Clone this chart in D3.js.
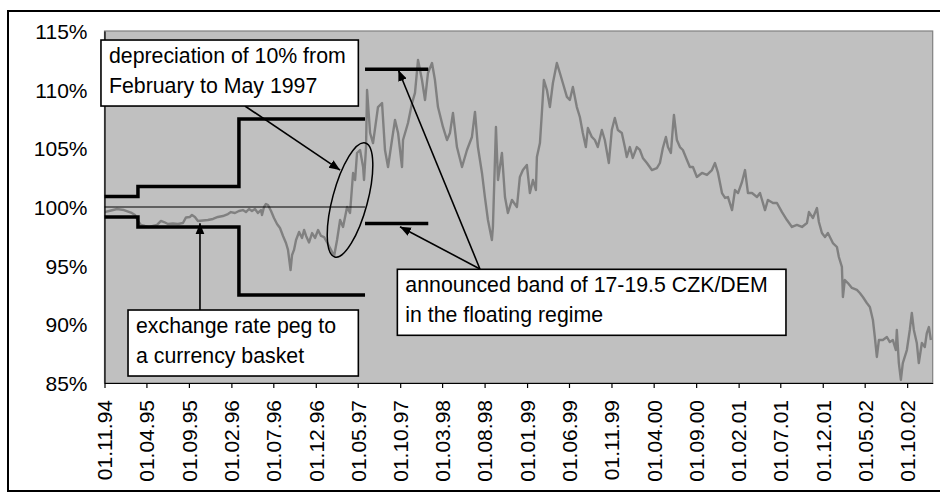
<!DOCTYPE html>
<html><head><meta charset="utf-8">
<script src="https://cdn.jsdelivr.net/npm/d3@7"></script>
<style>
body{margin:0;background:#fff}
svg{display:block}
text{font-family:"Liberation Sans",Arial,sans-serif}
</style>
</head><body>
<svg id="chart" width="940" height="499"></svg>
<script>
// ---- data (decimal years and % of parity) ----
const dates = [
1994.833,1994.897,1994.956,1995.025,1995.094,1995.134,1995.163,1995.193,1995.232,1995.272,
1995.311,1995.351,1995.390,1995.420,1995.459,1995.508,1995.558,1995.607,1995.637,1995.676,
1995.696,1995.725,1995.755,1995.804,1995.853,1995.903,1995.952,1996.001,1996.051,1996.080,
1996.120,1996.159,1996.198,1996.228,1996.258,1996.287,1996.317,1996.346,1996.376,1996.386,
1996.406,1996.425,1996.445,1996.475,1996.504,1996.534,1996.563,1996.593,1996.622,1996.642,
1996.667,1996.682,1996.701,1996.721,1996.751,1996.780,1996.800,1996.820,1996.849,1996.879,
1996.908,1996.938,1996.967,1996.997,1997.027,1997.066,1997.096,1997.125,1997.155,1997.184,
1997.224,1997.253,1997.283,1997.303,1997.322,1997.352,1997.382,1997.391,1997.411,1997.421,
1997.451,1997.480,1997.529,1997.569,1997.598,1997.628,1997.667,1997.697,1997.727,1997.766,
1997.776,1997.825,1997.865,1997.894,1997.924,1997.963,1997.993,1998.022,1998.062,1998.091,
1998.121,1998.170,1998.210,1998.239,1998.269,1998.308,1998.358,1998.407,1998.456,1998.486,
1998.515,1998.555,1998.584,1998.614,1998.653,1998.663,1998.693,1998.713,1998.752,1998.782,
1998.811,1998.851,1998.900,1998.929,1998.959,1998.998,1999.028,1999.058,1999.087,1999.097,
1999.127,1999.146,1999.166,1999.196,1999.225,1999.255,1999.294,1999.324,1999.353,1999.393,
1999.422,1999.452,1999.491,1999.521,1999.550,1999.580,1999.600,1999.639,1999.669,1999.698,
1999.738,1999.767,1999.807,1999.836,1999.866,1999.896,1999.935,1999.965,1999.984,2000.014,
2000.043,2000.083,2000.113,2000.142,2000.182,2000.231,2000.280,2000.310,2000.339,2000.369,
2000.389,2000.418,2000.438,2000.448,2000.477,2000.507,2000.536,2000.576,2000.605,2000.635,
2000.674,2000.724,2000.773,2000.822,2000.852,2000.882,2000.921,2000.951,2000.980,2001.020,
2001.049,2001.079,2001.118,2001.148,2001.177,2001.217,2001.266,2001.296,2001.345,2001.374,
2001.424,2001.463,2001.513,2001.562,2001.611,2001.660,2001.710,2001.759,2001.779,2001.818,
2001.858,2001.877,2001.907,2001.937,2001.966,2002.015,2002.055,2002.074,2002.104,2002.114,
2002.133,2002.163,2002.203,2002.252,2002.281,2002.311,2002.350,2002.380,2002.410,2002.429,
2002.449,2002.469,2002.508,2002.548,2002.577,2002.607,2002.636,2002.646,2002.666,2002.686,
2002.705,2002.745,2002.774,2002.794,2002.814,2002.843,2002.863,2002.893,2002.922,2002.942,
2002.962,2002.982
];
const values = [
99.57,99.70,99.83,99.74,99.53,99.32,98.81,98.47,98.38,98.30,
98.38,98.47,98.81,98.72,98.55,98.59,98.55,98.64,99.11,99.15,
99.32,99.15,98.81,98.85,98.89,98.98,99.15,99.23,99.40,99.57,
99.49,99.66,99.74,99.57,99.83,99.66,99.83,99.49,99.74,99.32,
100.00,100.26,100.17,99.66,99.06,98.55,98.21,97.53,96.93,96.34,
94.63,95.91,96.34,97.19,97.87,97.36,98.04,97.53,96.98,97.78,
97.36,98.04,97.53,97.44,96.98,96.34,95.82,97.19,98.89,98.30,
100.00,99.49,102.90,102.30,104.60,104.86,103.41,102.30,105.11,109.97,
106.31,105.45,108.52,108.86,104.86,103.41,105.71,107.42,106.31,103.41,
105.71,107.16,108.86,109.72,112.53,110.82,109.12,111.42,112.27,110.82,
108.52,106.82,105.71,106.31,108.01,105.11,103.41,104.86,105.97,108.10,
105.11,102.90,100.85,98.89,97.19,98.30,106.82,102.30,104.60,100.85,
99.49,100.60,100.00,102.56,103.15,103.58,101.19,102.30,101.45,104.26,
105.45,108.01,110.82,109.97,108.52,110.57,112.27,111.42,110.57,109.38,
109.12,110.23,108.52,107.67,106.31,105.11,106.73,105.97,105.71,105.11,
106.56,105.71,103.75,106.56,107.59,106.56,106.31,105.11,104.26,105.11,
104.18,105.11,104.86,104.18,103.75,103.15,103.32,103.75,105.03,105.97,
105.11,104.60,106.82,107.84,105.71,105.11,104.86,104.01,103.41,103.41,
102.56,102.90,102.73,103.15,103.75,102.90,101.19,100.77,100.85,99.74,
101.45,101.19,102.13,103.15,101.19,101.19,100.85,101.19,99.74,100.60,
100.34,100.34,99.57,98.89,98.30,98.47,98.30,98.64,99.57,99.06,
99.91,98.72,97.78,97.44,97.78,96.93,96.59,95.74,94.89,92.33,
93.78,93.52,93.10,92.93,92.67,92.33,91.82,91.48,90.37,88.92,
87.22,88.66,88.66,88.92,88.49,88.66,87.81,89.52,86.70,85.26,
86.70,87.81,89.52,90.97,89.52,88.41,86.70,88.41,88.07,89.26,
89.77,88.66
];
const tickLabels = ["01.11.94","01.04.95","01.09.95","01.02.96","01.07.96","01.12.96","01.05.97",
  "01.10.97","01.03.98","01.08.98","01.01.99","01.06.99","01.11.99","01.04.00","01.09.00",
  "01.02.01","01.07.01","01.12.01","01.05.02","01.10.02"];
const yTicks = [85, 90, 95, 100, 105, 110, 115];
const pegTimes = [1994.833, 1995.163, 1996.159, 1997.401];
const pegUpper = [100.9, 101.75, 107.5];
const pegLower = [99.15, 98.3, 92.5];
const parity = 100;
const floatTimes = [1997.401, 1998.025];
const floatBand = [111.75, 98.6];

// ---- helpers ----
function fromYear(y) {
  const yr = Math.floor(y);
  const a = new Date(yr, 0, 1), b = new Date(yr + 1, 0, 1);
  return new Date(+a + (y - yr) * (b - a));
}
const parseTick = d3.timeP
  ? null : null;
const parse = d3.timeParse("%d.%m.%y");

const svg = d3.select("#chart");
const L = 104.5, R = 932.7, T = 31, B = 383;

const x = d3.scaleTime().domain([new Date(1994, 10, 1), new Date(2003, 0, 1)]).range([L, R]);
const y = d3.scaleLinear().domain([85, 115]).range([B, T]);

// outer frame
svg.append("rect").attr("x", 8).attr("y", 11).attr("width", 945).attr("height", 480)
  .attr("fill", "#fff").attr("stroke", "#000").attr("stroke-width", 2);

// plot area
svg.append("rect").attr("x", L).attr("y", T).attr("width", R - L).attr("height", B - T)
  .attr("fill", "#c0c0c0").attr("stroke", "#808080").attr("stroke-width", 1.2);

const clip = svg.append("defs");
clip.append("clipPath").attr("id", "pc").append("rect")
  .attr("x", L).attr("y", T).attr("width", R - L).attr("height", B - T);
const marker = clip.append("marker").attr("id", "ah").attr("markerUnits", "userSpaceOnUse")
  .attr("markerWidth", 12).attr("markerHeight", 10).attr("refX", 11).attr("refY", 4.5)
  .attr("orient", "auto");
marker.append("path").attr("d", "M0,0L11,4.5L0,9Z").attr("fill", "#000");

// series
const series = dates.map((d, i) => [fromYear(d), values[i]]);
svg.append("path").datum(series)
  .attr("clip-path", "url(#pc)")
  .attr("fill", "none").attr("stroke", "#808080").attr("stroke-width", 2.4)
  .attr("stroke-linejoin", "round")
  .attr("d", d3.line().x(d => x(d[0])).y(d => y(d[1])));

// parity line
svg.append("line")
  .attr("x1", x(fromYear(pegTimes[0]))).attr("x2", x(fromYear(pegTimes[3])))
  .attr("y1", y(parity)).attr("y2", y(parity))
  .attr("stroke", "#000").attr("stroke-width", 1.2);

// peg band (step lines)
const stepLine = d3.line().curve(d3.curveStepAfter).x(d => x(d[0])).y(d => y(d[1]));
[pegUpper, pegLower].forEach(arr => {
  const pts = arr.map((v, i) => [fromYear(pegTimes[i]), v]);
  pts.push([fromYear(pegTimes[3]), arr[arr.length - 1]]);
  svg.append("path").datum(pts).attr("fill", "none").attr("stroke", "#000")
    .attr("stroke-width", 3.5).attr("d", stepLine);
});
// announced floating band
floatBand.forEach(v => {
  svg.append("line")
    .attr("x1", x(fromYear(floatTimes[0]))).attr("x2", x(fromYear(floatTimes[1])))
    .attr("y1", y(v)).attr("y2", y(v))
    .attr("stroke", "#000").attr("stroke-width", 3.5);
});

// axes
const xAxis = d3.axisBottom(x).tickValues(tickLabels.map(parse))
  .tickFormat(d3.timeFormat("%d.%m.%y")).tickSize(5).tickSizeOuter(0);
const gx = svg.append("g").attr("transform", `translate(0,${B})`).call(xAxis);
gx.select(".domain").attr("stroke", "#000").attr("stroke-width", 1.2);
gx.selectAll(".tick line").attr("stroke", "#000").attr("stroke-width", 1.2);
gx.selectAll("text")
  .attr("transform", "rotate(-90)")
  .attr("text-anchor", "end")
  .attr("x", -17).attr("y", 0).attr("dy", "0.35em")
  .attr("font-family", "'Liberation Sans', Arial, sans-serif")
  .attr("font-size", 21).attr("fill", "#000");

const yAxis = d3.axisLeft(y).tickValues(yTicks).tickSize(0).tickPadding(17)
  .tickFormat(d => d + "%");
const gy = svg.append("g").attr("transform", `translate(${L},0)`).call(yAxis);
gy.select(".domain").attr("stroke", "#000").attr("stroke-width", 1.2);
gy.selectAll("text")
  .attr("font-family", "'Liberation Sans', Arial, sans-serif")
  .attr("font-size", 21).attr("fill", "#000").attr("dy", "0.36em");

// annotations (anchored in data coordinates)
const ellipse = { t: 1997.253, v: 100.6, rx: 17.5, ry: 59, rot: 15 };
svg.append("ellipse")
  .attr("cx", 0).attr("cy", 0).attr("rx", ellipse.rx).attr("ry", ellipse.ry)
  .attr("transform", `translate(${x(fromYear(ellipse.t))},${y(ellipse.v)}) rotate(${ellipse.rot})`)
  .attr("fill", "none").attr("stroke", "#000").attr("stroke-width", 1.5);

const arrows = [
  { from: [1996.218, 108.61], to: [1997.155, 103.15] },
  { from: [1998.535, 94.72], to: [1997.730, 111.68] },
  { from: [1998.535, 94.72], to: [1997.746, 98.32] },
  { from: [1995.775, 91.22], to: [1995.775, 98.61] }
];
arrows.forEach(a => {
  svg.append("line")
    .attr("x1", x(fromYear(a.from[0]))).attr("y1", y(a.from[1]))
    .attr("x2", x(fromYear(a.to[0]))).attr("y2", y(a.to[1]))
    .attr("stroke", "#000").attr("stroke-width", 1.6)
    .attr("marker-end", "url(#ah)");
});

const notes = [
  { lines: ["depreciation of 10% from", "February to May 1997"], t0: 1994.798, t1: 1997.335, vTop: 114.23 },
  { lines: ["exchange rate peg to", "a currency basket"], t0: 1995.065, t1: 1997.335, vTop: 91.22 },
  { lines: ["announced band of 17-19.5 CZK/DEM", "in the floating regime"], t0: 1997.720, t1: 2001.552, vTop: 94.69 }
];
notes.forEach(n => {
  const x0 = x(fromYear(n.t0)), x1 = x(fromYear(n.t1)), y0 = y(n.vTop);
  const g = svg.append("g");
  g.append("rect").attr("x", x0).attr("y", y0).attr("width", x1 - x0).attr("height", 66)
    .attr("fill", "#fff").attr("stroke", "#000").attr("stroke-width", 1.6);
  n.lines.forEach((s, i) => {
    g.append("text").attr("x", x0 + 8).attr("y", y0 + 23 + i * 30)
      .attr("font-size", 21.3).attr("fill", "#000").text(s);
  });
});
</script>
</body></html>
